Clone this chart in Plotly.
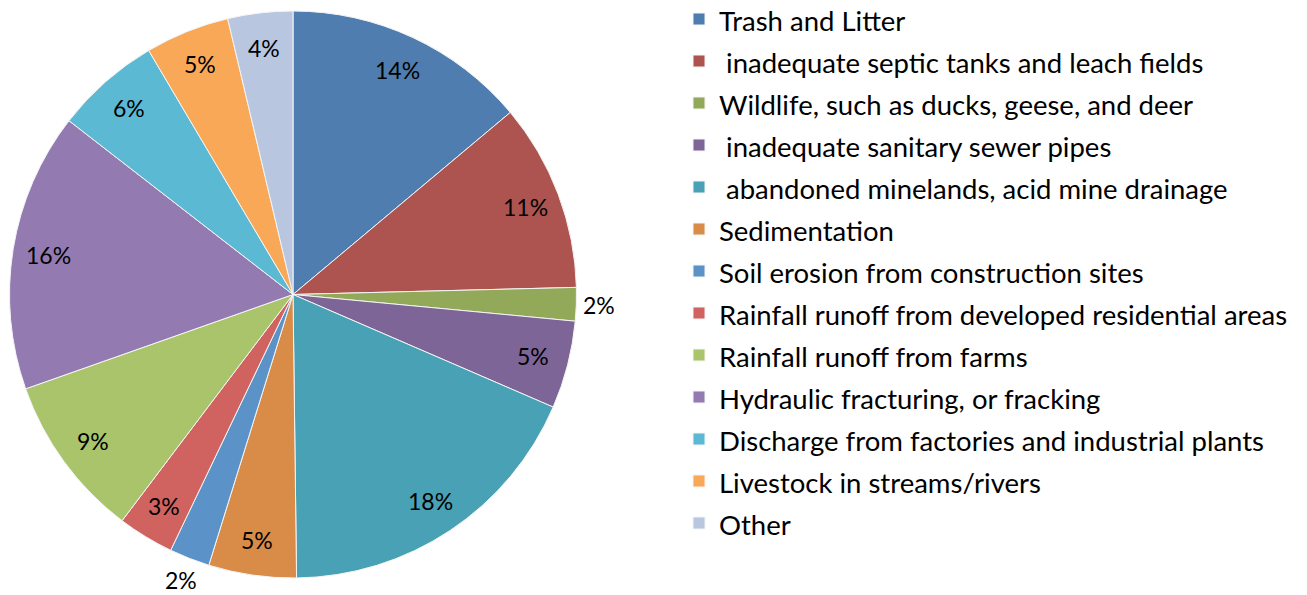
import math
import plotly.graph_objects as go

categories = [
    "Trash and Litter",
    " inadequate septic tanks and leach fields",
    "Wildlife, such as ducks, geese, and deer",
    " inadequate sanitary sewer pipes",
    " abandoned minelands, acid mine drainage",
    "Sedimentation",
    "Soil erosion from construction sites",
    "Rainfall runoff from developed residential areas",
    "Rainfall runoff from farms",
    "Hydraulic fracturing, or fracking",
    "Discharge from factories and industrial plants",
    "Livestock in streams/rivers",
    "Other",
]
values = [13.9, 10.7, 1.9, 5.0, 18.3, 5.0, 2.3, 3.2, 9.3, 15.9, 6.0, 4.8, 3.7]
label_outside = [False, False, True, False, False, False, True, False, False, False, False, False, False]
colors = [
    "#4F7DB0", "#AD5450", "#93A95A", "#7D6597", "#48A1B4", "#D98C47",
    "#5B93C9", "#D0635F", "#A9C46A", "#937BB2", "#5BB9D3", "#F9A858", "#B8C6E0",
]

W, H = 1307, 595
cx, cy, R = 293.0, 294.5, 283.5  # pie centre / radius in pixels

FONT = "Lato, Carlito, sans-serif"

fig = go.Figure(go.Pie(
    labels=[f'<span style="font-size:27.5px">{c}</span>' for c in categories],
    values=values,
    sort=False,
    direction="clockwise",
    rotation=0,
    textinfo="none",
    hoverinfo="label+percent",
    marker=dict(colors=colors, line=dict(color="#F4F4F4", width=1)),
    domain=dict(x=[(cx - R) / W, (cx + R) / W], y=[1 - (cy + R) / H, 1 - (cy - R) / H]),
))

total = sum(values)
cum = 0.0
annotations = []
for v, out in zip(values, label_outside):
    mid = (cum + v / 2) / total * 2 * math.pi
    cum += v
    r = R * (1.08 if out else 0.875)
    px = cx + r * math.sin(mid)
    py = cy - r * math.cos(mid)
    annotations.append(dict(
        x=px / W, y=1 - py / H, xref="paper", yref="paper",
        text=f"{round(v / total * 100)}%", showarrow=False,
        font=dict(family=FONT, size=23, color="#000000"),
        xanchor="center", yanchor="middle",
    ))

fig.update_layout(
    width=W, height=H,
    margin=dict(l=0, r=0, t=0, b=0, autoexpand=False),
    paper_bgcolor="white",
    plot_bgcolor="white",
    annotations=annotations,
    legend=dict(
        x=679 / W, y=1 + 7 / H, xanchor="left", yanchor="top",
        font=dict(family=FONT, size=30, color="#000000"),
        traceorder="normal",
        itemwidth=30,
        maxheight=1000,
    ),
    showlegend=True,
)

fig.write_html(
    "out.html",
    config={"displayModeBar": False},
    post_script="document.body.style.margin='0';document.body.style.overflow='hidden';",
)
